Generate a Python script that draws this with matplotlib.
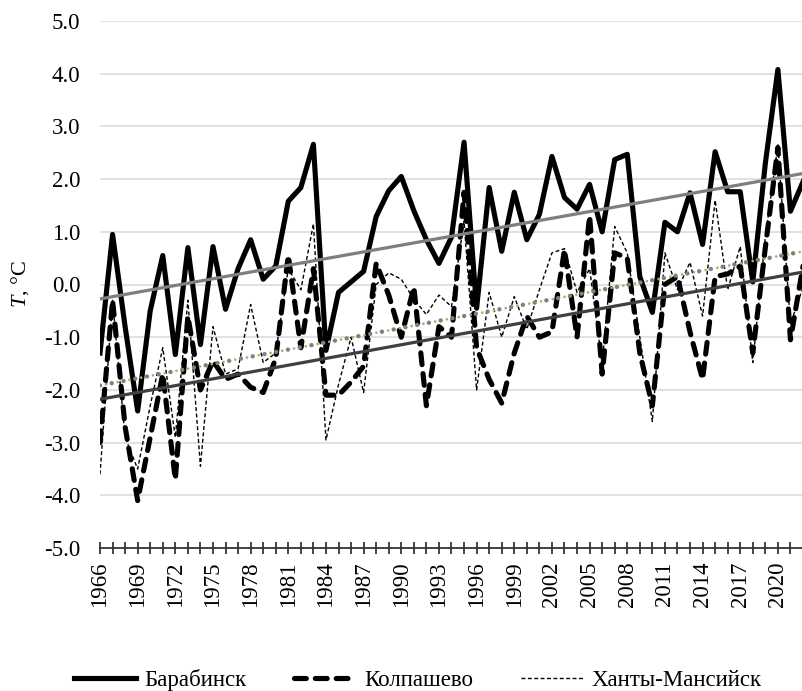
import matplotlib
matplotlib.use("Agg")
from matplotlib import pyplot as plt
import numpy as np

plt.rcParams['font.family'] = ['Liberation Serif', 'DejaVu Serif']
plt.rcParams['mathtext.fontset'] = 'custom'
plt.rcParams['mathtext.rm'] = 'Liberation Serif'
plt.rcParams['mathtext.it'] = 'Liberation Serif:italic'
plt.rcParams['lines.scale_dashes'] = False

years = list(range(1966, 2023))

barabinsk = [-1.3, 0.95, -0.8, -2.4, -0.5, 0.55, -1.33, 0.7, -1.14, 0.72,
             -0.47, 0.3, 0.85, 0.1, 0.35, 1.58, 1.84, 2.66, -1.25, -0.15,
             0.05, 0.25, 1.29, 1.78, 2.05, 1.4, 0.85, 0.4, 0.9, 2.7,
             -0.45, 1.84, 0.63, 1.75, 0.85, 1.33, 2.43, 1.65, 1.43, 1.9,
             1.0, 2.37, 2.47, 0.15, -0.53, 1.18, 1.0, 1.74, 0.76, 2.52,
             1.76, 1.76, 0.05, 2.3, 4.08, 1.39, 1.95]

kolpashevo = [-3.0, -0.3, -2.7, -4.1, -2.9, -1.7, -3.7, -0.6, -2.0, -1.45,
              -1.8, -1.7, -1.95, -2.05, -1.4, 0.55, -1.2, 0.3, -2.1, -2.1,
              -1.85, -1.55, 0.4, -0.2, -1.0, -0.05, -2.3, -0.8, -1.0, 1.75,
              -1.2, -1.8, -2.25, -1.3, -0.6, -1.0, -0.9, 0.66, -1.0, 1.3,
              -1.7, 0.6, 0.5, -1.3, -2.3, 0.0, 0.15, -0.9, -1.8, 0.15,
              0.2, 0.35, -1.3, 0.7, 2.6, -1.05, 0.35]

khanty = [-3.6, -0.3, -2.9, -3.5, -2.3, -1.2, -2.9, -0.3, -3.45, -0.8,
          -1.7, -1.6, -0.38, -1.48, -1.3, 0.3, -0.1, 1.15, -2.95, -1.9,
          -1.0, -2.05, 0.0, 0.22, 0.1, -0.28, -0.57, -0.2, -0.42, 1.2,
          -2.0, -0.15, -1.0, -0.23, -0.85, -0.1, 0.6, 0.68, -0.15, 0.3,
          -1.5, 1.1, 0.6, -1.0, -2.6, 0.6, -0.1, 0.42, -0.6, 1.6,
          -0.1, 0.72, -1.48, 0.9, 2.65, -0.75, -0.05]

names = ["Барабинск", "Колпашево", "Ханты-Мансийск"]

fig = plt.figure(figsize=(8.03, 6.91), dpi=100)
ax = fig.add_axes([100 / 803, 1 - 548 / 691, 703 / 803, 527 / 691])

x = np.array(years)

ax.plot(x, barabinsk, color='black', lw=3.7, solid_joinstyle='round',
        label=names[0], zorder=3)
ax.plot(x, kolpashevo, color='black', lw=3.7, dashes=(8.5, 6.5),
        dash_capstyle='round', dash_joinstyle='round', label=names[1], zorder=3)
ax.plot(x, khanty, color='black', lw=1.0, dashes=(2.8, 1.8),
        label=names[2], zorder=3)

# linear trends
xl = np.array([years[0], years[-1]])
k, b = np.polyfit(x, barabinsk, 1)
ax.plot(xl, k * xl + b, color='#7f7f7f', lw=2.3, zorder=4)
k, b = np.polyfit(x, kolpashevo, 1)
ax.plot(xl, k * xl + b, color='#404040', lw=2.3, zorder=4)
k, b = np.polyfit(x, khanty, 1)
ax.plot(xl, k * xl + b, color='#9bbb59', lw=2.0, dashes=(0.01, 4.3),
        dash_capstyle='round', zorder=4)
ax.plot(xl, k * xl + b, color='#808080', lw=3.2, dashes=(0.01, 8.6),
        dash_capstyle='round', zorder=5)

ax.set_xlim(1966, 2022)
ax.set_ylim(-5, 5)
ax.set_yticks(np.arange(-5, 5.1, 1))
ax.set_yticklabels([f"{v:.1f}" for v in np.arange(-5, 5.1, 1)])
ax.set_xticks(years, minor=True)
ax.set_xticks(years[::3])
ax.set_xticklabels([str(y) for y in years[::3]], rotation=90)

ax.grid(axis='y', color='#d9d9d9', lw=1.1, zorder=0)
ax.set_axisbelow(True)
for s in ['top', 'right', 'left']:
    ax.spines[s].set_visible(False)
ax.spines['bottom'].set_color('#262626')
ax.spines['bottom'].set_linewidth(1.2)
ax.spines['bottom'].set_zorder(6)

ax.tick_params(axis='y', length=0, pad=14, labelsize=16.5)
ax.tick_params(axis='x', which='both', direction='inout', length=9,
               width=1.2, color='#262626', labelsize=16.5, pad=5)

ax.set_ylabel(r'$T$, °C', fontsize=16, labelpad=8)
ax.yaxis.set_label_coords(-0.098, 0.5)

fig.legend(loc='lower center', bbox_to_anchor=(0.52, -0.03), ncol=3,
           frameon=False, fontsize=16.5, handlelength=2.7,
           columnspacing=2.1, handletextpad=0.35)

fig.savefig("out.png", dpi=100)
